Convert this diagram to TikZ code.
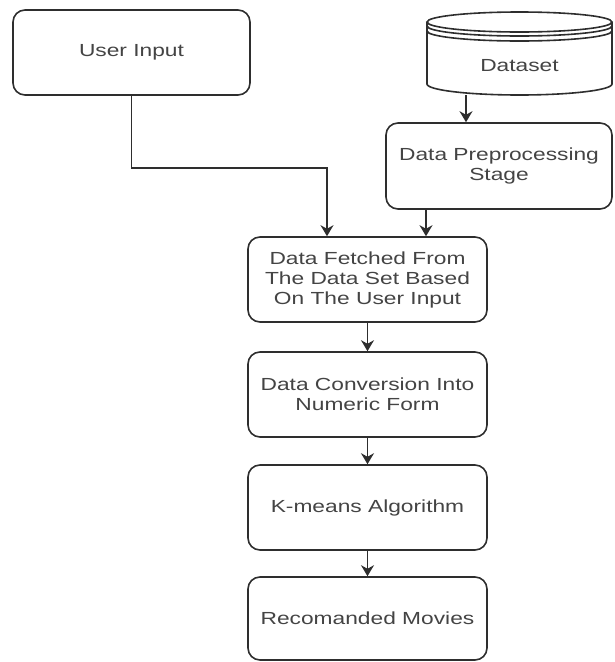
\documentclass[tikz,border=0pt]{standalone}
\usepackage{fontspec}
\setmainfont[FakeStretch=1.3]{Liberation Sans}
\usetikzlibrary{arrows.meta}
\definecolor{linegray}{HTML}{2E2E2E}
\definecolor{textgray}{HTML}{444444}
\tikzset{
  flowbox/.style={draw=linegray,fill=white,rounded corners=12pt,align=center,
    text=textgray,font=\fontsize{17.5}{20}\selectfont,inner sep=0pt},
}
\begin{document}
\begin{tikzpicture}[line width=1.6pt,>={Stealth[length=11pt,width=13pt]},x=1pt,y=-1pt]
		\useasboundingbox (0,0) rectangle (614,662);
		% boxes
		\node[flowbox,minimum width=237pt,minimum height=85pt] (user) at (131.5,52.5) {User Input};
		\node[flowbox,minimum width=226pt,minimum height=86pt] (pre) at (499,166) {Data Preprocessing\\Stage};
		\node[flowbox,minimum width=239pt,minimum height=85pt] (fetch) at (367.5,279.5) {Data Fetched From\\The Data Set Based\\On The User Input};
		\node[flowbox,minimum width=239pt,minimum height=85pt] (conv) at (367.5,394.5) {Data Conversion Into\\Numeric Form};
		\node[flowbox,minimum width=239pt,minimum height=85pt] (kmeans) at (367.5,507.5) {K-means Algorithm};
		\node[flowbox,minimum width=239pt,minimum height=83pt] (movies) at (367.5,618.5) {Recomanded Movies};
		% dataset cylinder
		\draw[linegray,fill=white] (427,22) -- (427,84) arc[start angle=180,end angle=360,x radius=92.5pt,y radius=11pt] -- (612,22);
		\draw[linegray,fill=white] (519.5,22) ellipse[x radius=92.5pt,y radius=10pt];
		\draw[linegray] (427,26) arc[start angle=180,end angle=360,x radius=92.5pt,y radius=10pt];
		\draw[linegray] (427,31) arc[start angle=180,end angle=360,x radius=92.5pt,y radius=10pt];
		\node[text=textgray,font=\fontsize{17.5}{20}\selectfont] (ds) at (519.5,66) {Dataset};
		\coordinate (dsb) at (466,95);
		% connectors
		\draw[->,linegray] (dsb) -- (dsb |- pre.north);
		\draw[->,linegray] ([xshift=-73pt]pre.south) -- ([xshift=-73pt]pre.south |- fetch.north);
		\draw[->,linegray] (user.south) -- ++(0,72) -| ([xshift=-40.5pt]fetch.north);
		\draw[->,linegray] (fetch) -- (conv);
		\draw[->,linegray] (conv) -- (kmeans);
		\draw[->,linegray] (kmeans) -- (movies);
	\end{tikzpicture}
\end{document}
